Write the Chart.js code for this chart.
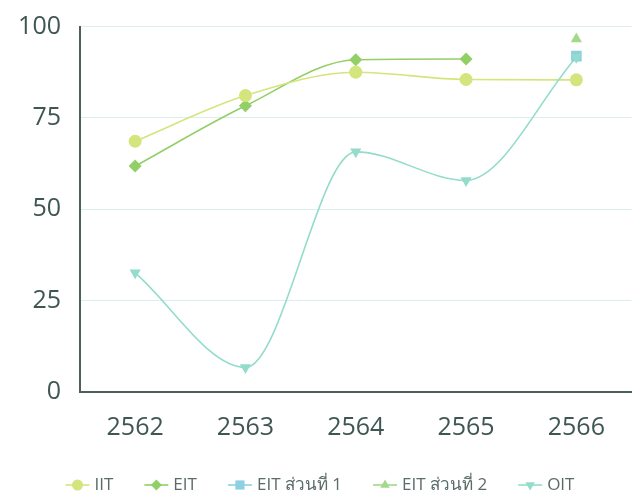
<!DOCTYPE html>
<html><head><meta charset="utf-8">
<script src="https://cdn.jsdelivr.net/npm/chart.js@4.4.1/dist/chart.umd.min.js"></script>
<style>html,body{margin:0;padding:0;background:#fff}#wrap{width:639px;height:494px}</style>
</head><body><div id="wrap"><canvas id="c"></canvas></div>
<script>
const categories = ['2562','2563','2564','2565','2566'];
const iit = [68.6, 81.1, 87.5, 85.5, 85.4];
const eit = [61.8, 78.3, 90.9, 91.1, null];
const eitPart1 = [null, null, null, null, 91.9];
const eitPart2 = [null, null, null, null, 96.6];
const oit = [32.6, 6.7, 65.7, 57.9, 91.6];
const yTicks = [0, 25, 50, 75, 100];

const seriesNames = ['IIT','EIT','EIT ส่วนที่ 1','EIT ส่วนที่ 2','OIT'];
const colors = ['#d3e57c','#92cf66','#8dd0e2','#a3d98c','#93dccb'];
const styles = ['circle','rectRot','rect','triangle','triangle'];
const rot = [0,0,0,0,180];
const radii = [6.5,6.5,7.5,6.5,6.5];

const dataArrays = [iit, eit, eitPart1, eitPart2, oit];
const datasets = dataArrays.map((d,i)=>({
  label: seriesNames[i],
  data: d,
  borderColor: colors[i],
  backgroundColor: colors[i],
  pointBackgroundColor: colors[i],
  pointBorderColor: colors[i],
  pointStyle: styles[i],
  rotation: rot[i],
  pointRadius: radii[i],
  pointBorderWidth: 0,
  borderWidth: 1.6,
  cubicInterpolationMode: 'monotone',
  spanGaps: false,
  order: i===4 ? 0 : 1
}));

const legendFont = '17px "Open Sans"';
const customLegend = {
  id: 'customLegend',
  afterDraw(chart){
    const ctx = chart.ctx;
    ctx.save();
    ctx.font = legendFont;
    const iconHalf = 13, iconToText = 17, textToNext = 43;
    const items = chart.data.datasets.map((ds,i)=>({i, text: ds.label, w: ctx.measureText(ds.label).width}));
    let total = iconHalf;
    items.forEach((it,k)=>{ total += iconToText + it.w + (k<items.length-1 ? textToNext : 0); });
    let cx = (chart.width - total)/2 + iconHalf;
    const y = chart.height - 9;
    items.forEach((it)=>{
      const c = colors[it.i];
      ctx.strokeStyle = c; ctx.lineWidth = 1.6;
      ctx.beginPath(); ctx.moveTo(cx-12, y); ctx.lineTo(cx+12, y); ctx.stroke();
      ctx.fillStyle = c;
      Chart.helpers.drawPoint(ctx, {pointStyle: styles[it.i], rotation: rot[it.i], radius: styles[it.i]==='rect'?6.5:5.5, borderWidth: 0}, cx, y);
      ctx.fillStyle = '#5a6b69';
      ctx.textBaseline = 'middle'; ctx.textAlign = 'left';
      ctx.fillText(it.text, cx + iconToText, y);
      cx = cx + iconToText + it.w + textToNext;
    });
    ctx.restore();
  }
};

new Chart(document.getElementById('c'), {
  type: 'line',
  data: { labels: categories, datasets },
  options: {
    responsive: true, maintainAspectRatio: false, animation: false,
    layout: { padding: { top: 20, right: 7, left: 0, bottom: 30 } },
    scales: {
      x: {
        offset: true,
        grid: { display: false, drawTicks: false },
        border: { color: '#4d5e5c', width: 2 },
        ticks: { color: '#3f5653', padding: 21, font: { family: 'Open Sans', size: 25 } }
      },
      y: {
        min: 0, max: 100,
        afterBuildTicks: s => { s.ticks = yTicks.map(v=>({value:v})); },
        afterFit: s => { s.width = 80; },
        grid: { color: '#d8efee', lineWidth: 1, drawTicks: false },
        border: { color: '#4d5e5c', width: 2 },
        ticks: { color: '#3f5653', padding: 19, font: { family: 'Open Sans', size: 25, lineHeight: 0.6 } }
      }
    },
    plugins: {
      tooltip: { enabled: false },
      legend: { display: false }
    }
  },
  plugins: [customLegend]
});
</script></body></html>
